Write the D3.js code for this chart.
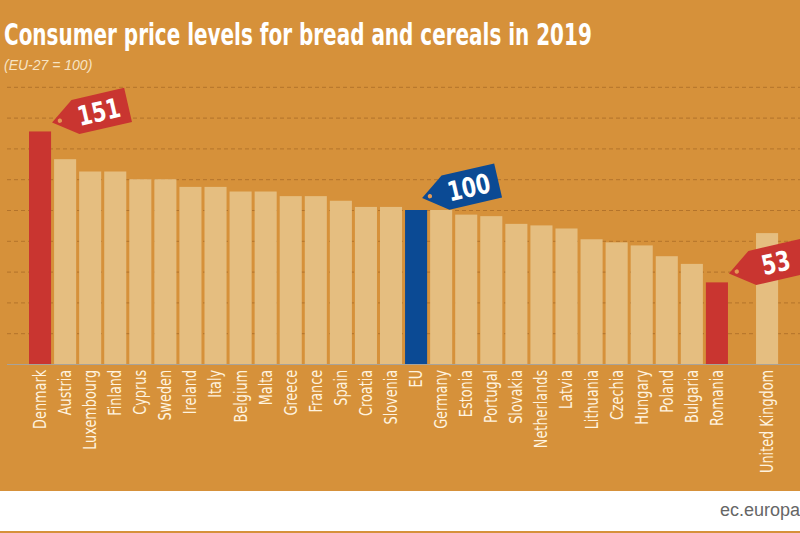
<!DOCTYPE html>
<html>
<head>
<meta charset="utf-8">
<script src="https://cdn.jsdelivr.net/npm/d3@7"></script>
<style>
  html, body { margin: 0; padding: 0; background: #fff; }
  svg { display: block; }
</style>
</head>
<body>
<svg id="chart" width="800" height="533"></svg>
<script>
// ---- Data ----
const categories = ["Denmark","Austria","Luxembourg","Finland","Cyprus","Sweden","Ireland","Italy","Belgium","Malta","Greece","France","Spain","Croatia","Slovenia","EU","Germany","Estonia","Portugal","Slovakia","Netherlands","Latvia","Lithuania","Czechia","Hungary","Poland","Bulgaria","Romania"];
const values = [151,133,125,125,120,120,115,115,112,112,109,109,106,102,102,100,100,97,96,91,90,88,81,79,77,70,65,53];
const extraCategories = ["United Kingdom"];
const extraValues = [85];
const gridTicks = [20,40,60,80,100,120,140,160,180];
const tagged = ["Denmark","EU","Romania"];

const title = "Consumer price levels for bread and cereals in 2019";
const subtitle = "(EU-27 = 100)";
const footer = "ec.europa.eu";

// ---- Styles ----
const BG = "#D6913A", BAR = "#E5BE80", RED = "#C93530", BLUE = "#0B4A94", GRID = "#B3732B";
const NARROW = "'Liberation Sans Narrow','DejaVu Sans Condensed','Arial Narrow',sans-serif";

const svg = d3.select("#chart");
svg.append("rect").attr("x",0).attr("y",0).attr("width",800).attr("height",491).attr("fill",BG);
svg.append("rect").attr("x",0).attr("y",531).attr("width",800).attr("height",2).attr("fill",BG);

const allCats = [...categories, "__gap__", ...extraCategories];
const allData = categories.map((c,i)=>({c, v: values[i]}))
  .concat(extraCategories.map((c,i)=>({c, v: extraValues[i]})));

const x = d3.scaleBand().domain(allCats).range([27.5, 779.6]).paddingInner(0.12).paddingOuter(0.06);
const y = d3.scaleLinear().domain([0, 180]).range([364, 86.8]);

// gridlines
const yAxis = d3.axisLeft(y).tickValues(gridTicks).tickSize(-793).tickFormat("");
const gAxis = svg.append("g").attr("transform","translate(7,0)").call(yAxis);
gAxis.select(".domain").remove();
gAxis.selectAll(".tick line").attr("stroke",GRID).attr("stroke-dasharray","4,3").attr("stroke-width",1);

// colors
const euVals = values.filter((v,i)=>categories[i]!=="EU");
const maxV = d3.max(euVals), minV = d3.min(euVals);
const colorOf = d => d.c === "EU" ? BLUE : ((d.v === maxV || d.v === minV) && categories.includes(d.c) ? RED : BAR);

svg.append("g").selectAll("rect").data(allData).join("rect")
  .attr("x", d => x(d.c))
  .attr("y", d => y(d.v))
  .attr("width", x.bandwidth())
  .attr("height", d => y(0) - y(d.v))
  .attr("fill", colorOf);

// baseline
svg.append("line").attr("x1",7).attr("x2",800).attr("y1",y(0)+0.5).attr("y2",y(0)+0.5)
  .attr("stroke","#A8A39A").attr("stroke-width",1.2);

// category labels
const xAxis = d3.axisBottom(x).tickValues(allCats.filter(c=>c!=="__gap__")).tickSize(0);
const gx = svg.append("g").attr("transform",`translate(0,${y(0)})`).call(xAxis);
gx.select(".domain").remove();
gx.selectAll(".tick text")
  .attr("transform","rotate(-90) scale(0.84,1)")
  .attr("x",-7).attr("y",0).attr("dy","0.35em")
  .attr("text-anchor","end")
  .attr("fill","#FFF3DF")
  .style("font-family",NARROW).style("font-size","17px");

// price tags
const tagPath = "M0,0 L24,-17.5 L78,-17.5 L78,17.5 L24,17.5 Z";
tagged.forEach(c => {
  const d = allData.find(e => e.c === c);
  const tx = x(c) + x.bandwidth() + (c === "EU" ? -5 : 1), ty = y(d.v) - (c === "EU" ? 12 : 9);
  const g = svg.append("g").attr("transform",`translate(${tx},${ty}) rotate(-13)`);
  g.append("path").attr("d",tagPath).attr("fill", colorOf(d)).attr("stroke-linejoin","round");
  g.append("circle").attr("cx",8).attr("cy",0).attr("r",2.2).attr("fill","#E59A55");
  g.append("text").attr("transform","translate(48,0) scale(0.85,1)").attr("dy","0.36em").attr("text-anchor","middle")
    .attr("fill","#fff").style("font-family",NARROW).style("font-weight","bold").style("font-size","27px")
    .text(d.v);
});

// title (fit width by horizontal scaling)
const t = svg.append("text").attr("x",0).attr("y",0).text(title)
  .attr("fill","#fff").style("font-family",NARROW).style("font-weight","bold").style("font-size","31px");
const natW = t.node().getComputedTextLength();
t.attr("transform",`translate(4,45) scale(${588/natW},1)`);

svg.append("text").attr("x",4).attr("y",70).text(subtitle)
  .attr("fill","#F8E4C4").style("font-family","'Liberation Sans',Arial,sans-serif").style("font-style","italic").style("font-size","14px");

// footer
svg.append("text").attr("x",720).attr("y",516).text(footer)
  .attr("fill","#666").style("font-family","'Liberation Sans',Arial,sans-serif").style("font-size","18px");
</script>
</body>
</html>
